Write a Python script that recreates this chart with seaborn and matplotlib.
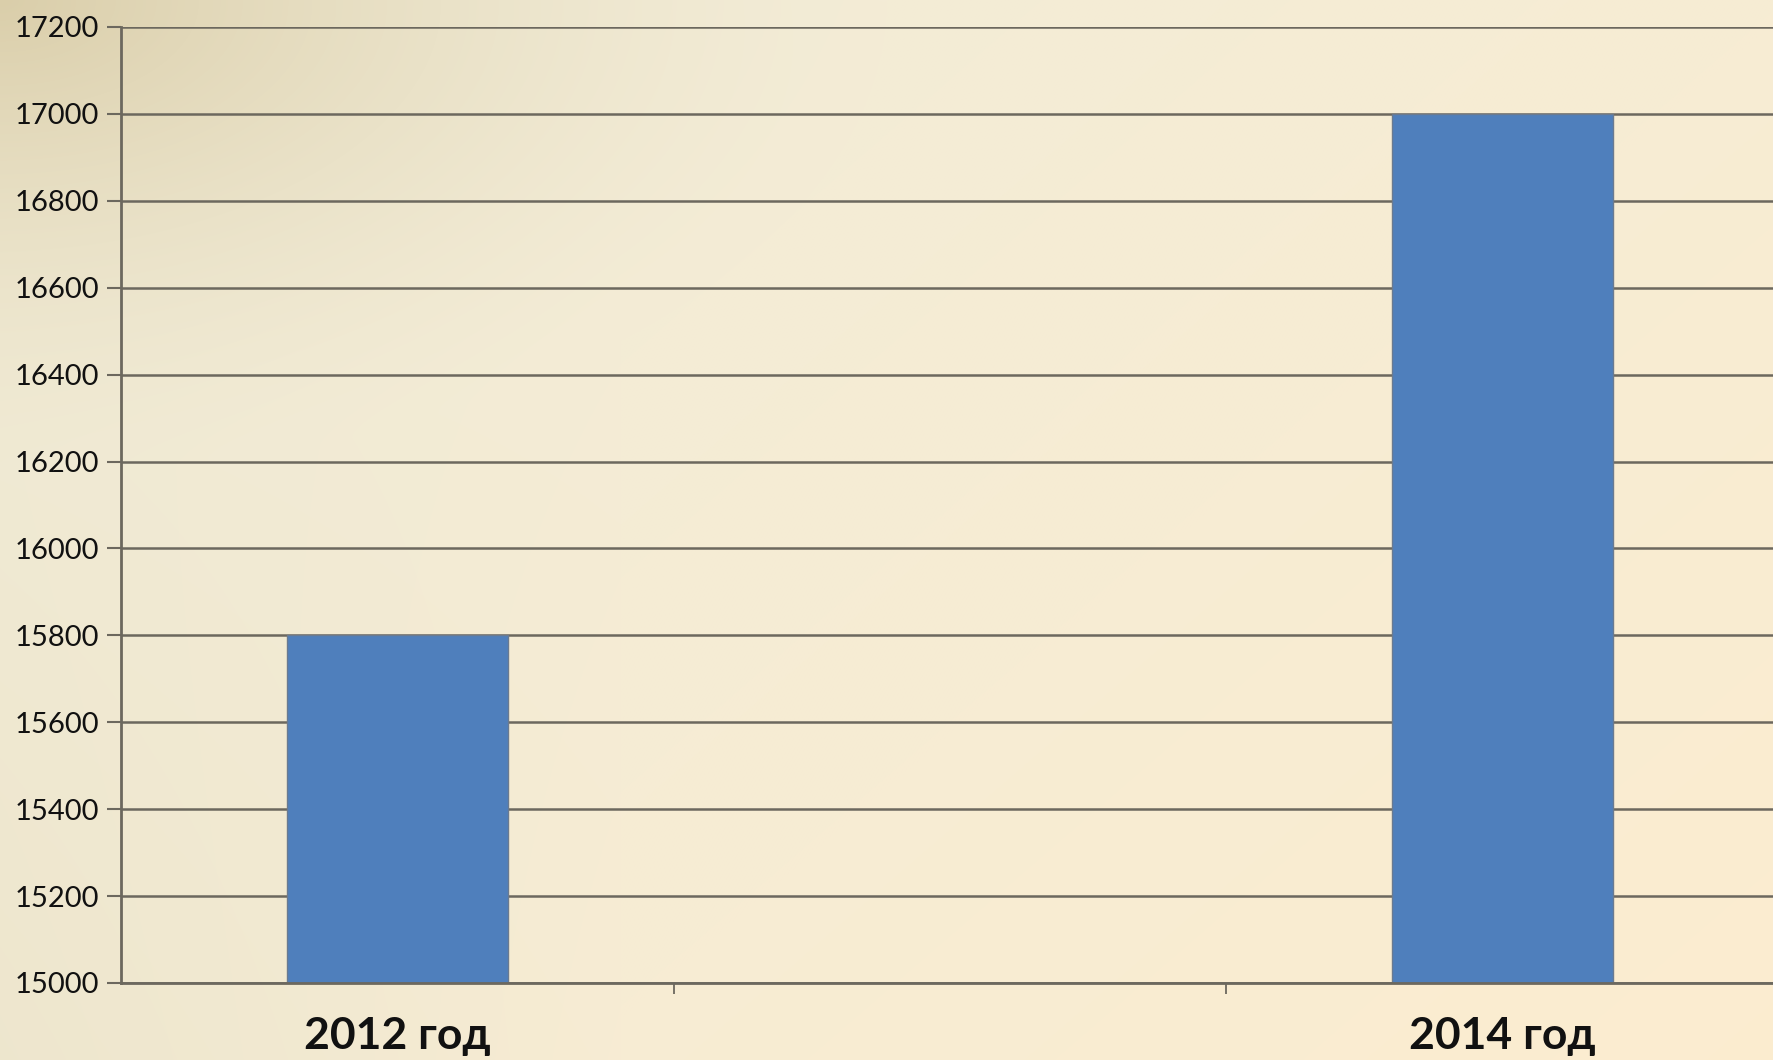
import numpy as np
import pandas as pd
import matplotlib
matplotlib.use("Agg")
import matplotlib.pyplot as plt
import seaborn as sns

# Data
years = ["2012 год", " ", "2014 год"]
values = [15800, np.nan, 17000]
y_ticks = list(range(15000, 17201, 200))

df = pd.DataFrame({"year": years, "value": values})

sns.set_theme(style="white")
plt.rcParams["font.family"] = ["Lato", "DejaVu Sans"]

W, H, DPI = 1773, 1060, 100
fig = plt.figure(figsize=(W / DPI, H / DPI), dpi=DPI)

# Warm paper-like background: cream to peach, darker tan towards the top-left corner
yy, xx = np.mgrid[0:H, 0:W]
u = xx / W
v = yy / H
cream = np.array([242, 236, 215]) / 255
peach = np.array([253, 236, 207]) / 255
tan = np.array([218, 206, 170]) / 255
greyish = np.array([236, 229, 204]) / 255
t = np.clip(0.65 * u + 0.45 * v - 0.2, 0, 1)[..., None]
img = cream * (1 - t) + peach * t
# slight greyish tint down the left side
wl = np.clip(1 - u / 0.35, 0, 1)[..., None] * np.clip(v, 0, 1)[..., None] * 0.8
img = img * (1 - wl) + greyish * wl
# tan vignette in the upper-left corner
d = np.sqrt((u / 1.0) ** 2 + (v / 0.9) ** 2)
wc = (np.clip(1 - d / 0.5, 0, 1) ** 1.6)[..., None]
img = img * (1 - wc) + tan * wc

bg = fig.add_axes([0, 0, 1, 1], zorder=-10)
bg.imshow(img, aspect="auto", extent=[0, 1, 0, 1], origin="upper")
bg.set_axis_off()

# Plot area (extends slightly past the right edge of the canvas)
left_px, right_px, top_px, bottom_px = 121, 1779, 27, 983
ax = fig.add_axes([left_px / W, 1 - bottom_px / H,
                   (right_px - left_px) / W, (bottom_px - top_px) / H])
ax.patch.set_alpha(0)

grid_color = "#6c685e"
sns.barplot(data=df, x="year", y="value", ax=ax, color="#4f7fbc",
            saturation=1, width=0.4, edgecolor="#6a7a90", linewidth=1.0,
            zorder=3)

ax.set_ylim(15000, 17200)
ax.set_xlim(-0.5, 2.5)
ax.set_yticks(y_ticks)
ax.set_yticklabels([str(t) for t in y_ticks], fontsize=21, color="#111111")
ax.yaxis.grid(True, color=grid_color, linewidth=1.8, zorder=1)
ax.set_axisbelow(True)

# category boundary ticks on the x axis, labels centred on the bars
ax.set_xticks([0, 1, 2])
ax.set_xticklabels(years, fontsize=32, fontweight="bold", color="#111111")
ax.set_xticks([0.5, 1.5], minor=True)
ax.tick_params(axis="x", which="major", bottom=True, length=0, pad=24)
ax.tick_params(axis="x", which="minor", bottom=True, length=8, width=1.3,
               color=grid_color, direction="out")
ax.tick_params(axis="y", length=10, width=1.5, color=grid_color,
               direction="out", pad=6, left=True)

for side in ("top", "right"):
    ax.spines[side].set_visible(False)
for side in ("left", "bottom"):
    ax.spines[side].set_color(grid_color)
    ax.spines[side].set_linewidth(2.0)
    ax.spines[side].set_zorder(4)

ax.set_xlabel("")
ax.set_ylabel("")

fig.savefig("out.png", dpi=DPI)
